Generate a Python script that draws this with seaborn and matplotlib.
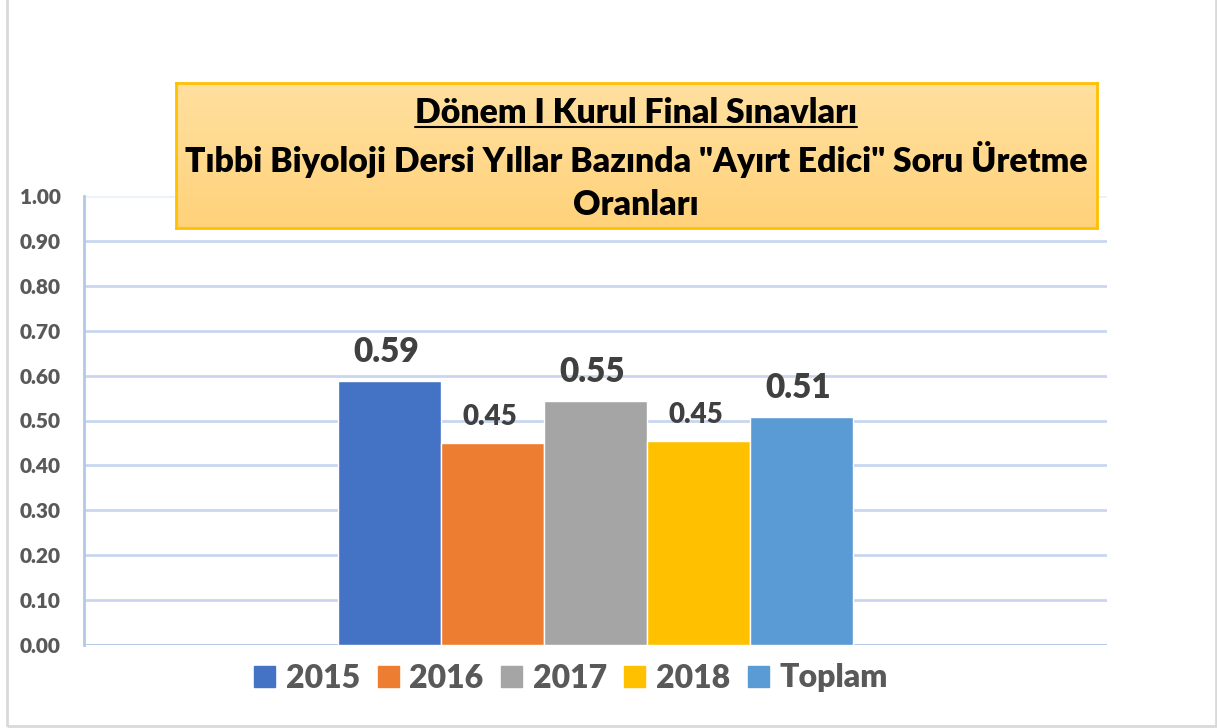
import matplotlib
matplotlib.use("Agg")
import matplotlib.pyplot as plt
import numpy as np
import pandas as pd
import seaborn as sns
from matplotlib.patches import Rectangle
from matplotlib.lines import Line2D
from matplotlib.colors import LinearSegmentedColormap

categories = ["2015", "2016", "2017", "2018", "Toplam"]
values = [0.588, 0.450, 0.544, 0.455, 0.508]
value_labels = ["0.59", "0.45", "0.55", "0.45", "0.51"]
label_sizes = [24, 20, 24, 20, 24]
colors = ["#4472C4", "#ED7D31", "#A5A5A5", "#FFC000", "#5B9BD5"]
yticks = [0.0, 0.1, 0.2, 0.3, 0.4, 0.5, 0.6, 0.7, 0.8, 0.9, 1.0]
title_lines = ["Dönem I Kurul Final Sınavları",
               "Tıbbi Biyoloji Dersi Yıllar Bazında \"Ayırt Edici\" Soru Üretme",
               "Oranları"]

sns.set_style("white")
plt.rcParams["font.family"] = ["Lato", "DejaVu Sans"]

W, H = 1217, 728
fig = plt.figure(figsize=(W / 100, H / 100), dpi=100)
fig.patch.set_facecolor("white")

ax = fig.add_axes([84 / W, (H - 645) / H, (1107 - 84) / W, (645 - 196) / H])
df = pd.DataFrame({"cat": categories, "val": values})
sns.barplot(data=df, x="cat", y="val", hue="cat", palette=colors,
            width=1.0, dodge=False, legend=False, ax=ax, saturation=1)
half = (1107 - 84) / 103 / 2
ax.set_xlim(2 - half, 2 + half)
ax.set_ylim(0, 1.0)
ax.set_yticks(yticks)
ax.set_yticklabels([f"{t:.2f}" for t in yticks], fontsize=15, fontweight="heavy", color="#595959")
ax.tick_params(axis="y", length=0, pad=17)
ax.set_xticks([])
ax.set_xlabel("")
ax.set_ylabel("")
for s in ["top", "right", "bottom"]:
    ax.spines[s].set_visible(False)
ax.spines["left"].set_color("#B4C7E7")
ax.spines["left"].set_linewidth(2)
for t in yticks:
    a = 0.35 if t == 1.0 else 1.0
    ax.axhline(t, color="#C9D6EE", lw=2, alpha=a, zorder=0)
ax.axhline(0, color="#B4C7E7", lw=2, zorder=0.5)

for i, (v, lab, fs) in enumerate(zip(values, value_labels, label_sizes)):
    ax.text(i - 0.03, v + 0.028, lab, ha="center", va="bottom", fontsize=fs,
            fontweight="heavy", color="#404040")

# Title box with gradient
bx = fig.add_axes([176 / W, (H - 228) / H, (1097 - 176) / W, (228 - 83) / H])
grad = np.linspace(0, 1, 100).reshape(-1, 1)
cmap = LinearSegmentedColormap.from_list("g", ["#FFE0A0", "#FFD27A"])
bx.imshow(grad, aspect="auto", cmap=cmap, extent=[0, 1, 0, 1], origin="upper")
bx.set_xticks([]); bx.set_yticks([])
for s in bx.spines.values():
    s.set_color("#FFC000"); s.set_linewidth(2)
bx.set_xlim(0, 1); bx.set_ylim(0, 1)

cx = 636 / W
ys = [113, 160, 205]
txts = []
for line, yy in zip(title_lines, ys):
    txts.append(fig.text(cx, (H - yy) / H, line, ha="center", va="center",
                         fontsize=24.3, fontweight="heavy", color="black"))
fig.canvas.draw()
bb = txts[0].get_window_extent()
fig.add_artist(Line2D([bb.x0 / W, bb.x1 / W], [(bb.y0 + 2) / H, (bb.y0 + 2) / H],
                      color="black", lw=1.5, transform=fig.transFigure))

# Legend
handles = [Rectangle((0, 0), 1, 1, color=c) for c in colors]
leg = fig.legend(handles, categories, loc="center", bbox_to_anchor=(571 / W, (H - 678) / H),
                 ncol=5, frameon=False, handlelength=0.66, handleheight=0.66,
                 handletextpad=0.33, columnspacing=0.55,
                 prop={"family": "Lato", "weight": "heavy", "size": 23})
for t in leg.get_texts():
    t.set_color("#595959")

# Outer border
fig.add_artist(Rectangle((7 / W, 2 / H), (1216 - 7) / W, (H + 10) / H,
                         transform=fig.transFigure, fill=False,
                         edgecolor="#D9D9D9", lw=2))

fig.savefig("out.png", dpi=100)
